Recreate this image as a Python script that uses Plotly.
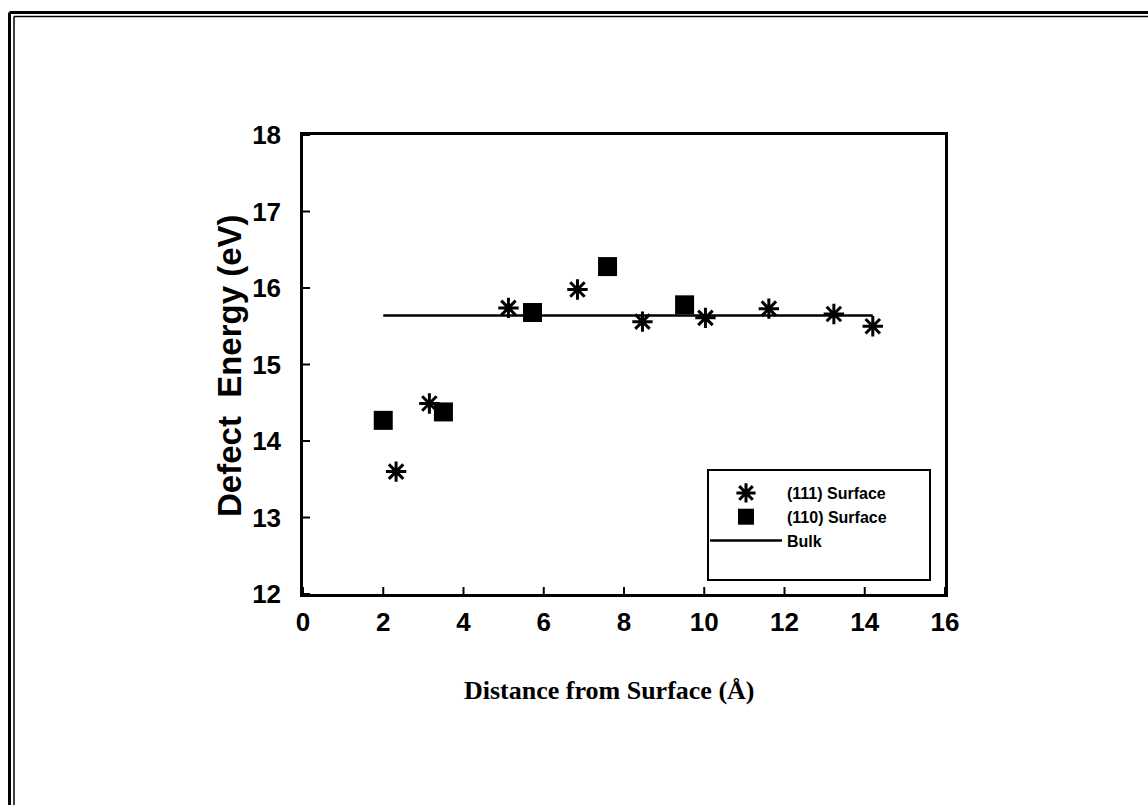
import plotly.graph_objects as go

# ---- data ----
x111 = [2.32, 3.15, 5.12, 6.84, 8.46, 10.03, 11.61, 13.23, 14.20]
y111 = [13.60, 14.49, 15.74, 15.98, 15.56, 15.61, 15.73, 15.66, 15.50]
x110 = [2.00, 3.50, 5.72, 7.59, 9.51]
y110 = [14.27, 14.38, 15.68, 16.28, 15.78]
xbulk = [2.0, 14.2]
ybulk = [15.64, 15.64]
xticks = [0, 2, 4, 6, 8, 10, 12, 14, 16]
yticks = [12, 13, 14, 15, 16, 17, 18]

W, H = 1148, 805
L, R, T, B = 303, 945, 135, 594  # plot area in px
HALF = 7  # half length of the crossing ticks, px


def px(xp):
    return (xp - L) / (R - L)


def py(yp):
    return (B - yp) / (B - T)


fig = go.Figure()
fig.add_trace(go.Scatter(
    x=x111, y=y111, mode="markers", name="(111) Surface",
    marker=dict(symbol="asterisk-open", size=17, color="black",
                line=dict(color="black", width=3)),
))
fig.add_trace(go.Scatter(
    x=x110, y=y110, mode="markers", name="(110) Surface",
    marker=dict(symbol="square", size=19, color="black",
                line=dict(color="black", width=0)),
))
fig.add_trace(go.Scatter(
    x=xbulk, y=ybulk, mode="lines", name="Bulk",
    line=dict(color="black", width=2.5),
))

tickfont = dict(family="Liberation Sans, Arial", size=26, color="black",
                weight="bold")

fig.update_layout(
    width=W, height=H,
    margin=dict(l=L, r=W - R, t=T, b=H - B, pad=0),
    paper_bgcolor="white", plot_bgcolor="white",
    font=dict(family="Liberation Sans, Arial", color="black"),
    xaxis=dict(range=[0, 16], tickvals=xticks, ticks="",
               showline=True, linecolor="black", linewidth=2.5, mirror=True,
               showgrid=False, zeroline=False,
               tickfont=tickfont, ticklabelstandoff=3),
    yaxis=dict(range=[12, 18], tickvals=yticks, ticks="",
               showline=True, linecolor="black", linewidth=2.5, mirror=True,
               showgrid=False, zeroline=False,
               tickfont=tickfont, ticklabelstandoff=14),
    showlegend=True,
    legend=dict(x=px(705), y=py(476), xanchor="left", yanchor="top",
                bgcolor="rgba(0,0,0,0)", borderwidth=0, itemwidth=72,
                font=dict(family="Liberation Sans, Arial", size=16,
                          color="black", weight="bold"),
                tracegroupgap=0),
)

fig.add_annotation(
    text="<b>Defect  Energy (eV)</b>", xref="paper", yref="paper",
    x=px(229), y=py(366), showarrow=False, xanchor="center", yanchor="middle",
    textangle=-90,
    font=dict(family="Liberation Sans, Arial", size=33, color="black"),
)
fig.add_annotation(
    text="<b>Distance from Surface (Å)</b>", xref="paper", yref="paper",
    x=px(609), y=py(690), showarrow=False, xanchor="center", yanchor="middle",
    font=dict(family="Liberation Serif, Times New Roman", size=26, color="black"),
)

shapes = []
# crossing tick marks, placed at the axis tick values
for v in xticks:
    shapes.append(dict(type="line", xref="x", yref="y", x0=v, x1=v,
                       ysizemode="pixel", yanchor=yticks[0], y0=-HALF, y1=HALF,
                       line=dict(color="black", width=2), layer="above"))
for v in yticks:
    shapes.append(dict(type="line", xref="x", yref="y", y0=v, y1=v,
                       xsizemode="pixel", xanchor=xticks[0], x0=-HALF, x1=HALF,
                       line=dict(color="black", width=2), layer="above"))
# legend box
shapes.append(dict(type="rect", xref="paper", yref="paper",
                   x0=px(708), x1=px(930), y0=py(580), y1=py(470),
                   line=dict(color="black", width=2)))
# double page border (left and top)
for xp, w, ytop in [(9.5, 3, 12.5), (14, 1.5, 16.5)]:
    shapes.append(dict(type="line", xref="paper", yref="paper",
                       x0=px(xp), x1=px(xp), y0=py(805), y1=py(ytop),
                       line=dict(color="black", width=w)))
for yp, w, xs in [(12.5, 3, 9.5), (16.5, 1.5, 14)]:
    shapes.append(dict(type="line", xref="paper", yref="paper",
                       x0=px(xs), x1=px(1148), y0=py(yp), y1=py(yp),
                       line=dict(color="black", width=w)))
fig.update_layout(shapes=shapes)

fig.write_html("out.html")
